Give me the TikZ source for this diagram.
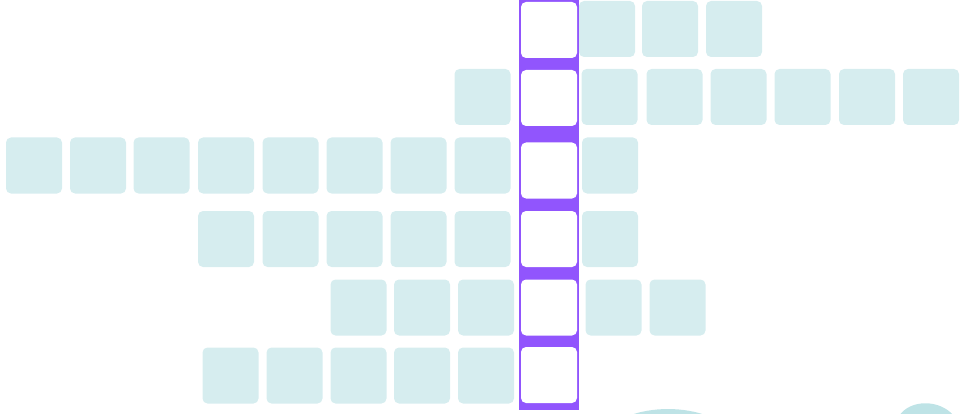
\documentclass[tikz,border=0pt]{standalone}
\usepackage{xcolor}
\usepackage{tikz}
\usetikzlibrary{positioning}
\definecolor{tealcell}{RGB}{214,237,239}
\definecolor{tealblob}{RGB}{190,227,230}
\definecolor{keypurple}{RGB}{145,85,253}
\definecolor{keywhite}{RGB}{255,255,255}

\begin{document}
\begin{tikzpicture}[x=1pt,y=-1pt,
cell/.style={shape=rectangle,rounded corners=5pt,fill=tealcell,minimum size=56pt,inner sep=0pt},
keycell/.style={cell,fill=keywhite}]
\useasboundingbox (0,0) rectangle (960,414);
\clip (0,0) rectangle (960,414);
\fill[keypurple](519,0) rectangle (579,410);
% key column
\foreach \y [count=\i] in {30,98,170.5,239,307.5,375}
\node[keycell] (k\i) at (549,\y) {};
% row 1
\foreach \x [count=\i] in {607,670,734}
\node[cell] (a\i) at (\x,29) {};
% row 2
\foreach \x [count=\i] in {482.5,609.5,674.5,738.5,802.5,867,931}
\node[cell] (b\i) at (\x,97) {};
% row 3
\foreach \x [count=\i] in {34,98,161.5,226,290.5,354.5,418.5,482.5,610}
\node[cell] (c\i) at (\x,165.5) {};
% row 4
\foreach \x [count=\i] in {226,290.5,354.5,418.5,482.5,610}
\node[cell] (d\i) at (\x,239) {};
% row 5
\foreach \x [count=\i] in {358.5,422,486,613.5,677.5}
\node[cell] (e\i) at (\x,307.5) {};
% row 6
\foreach \x [count=\i] in {230.5,294.5,358.5,422,486}
\node[cell] (f\i) at (\x,375.5) {};
% blobs
\fill[tealblob](628,416) .. controls (652,406.7) and (684,406.7) .. (708,416) -- cycle;
\fill[tealblob](899,416) .. controls (910,399) and (940,399) .. (954,416) -- cycle;
\end{tikzpicture}
\end{document}
